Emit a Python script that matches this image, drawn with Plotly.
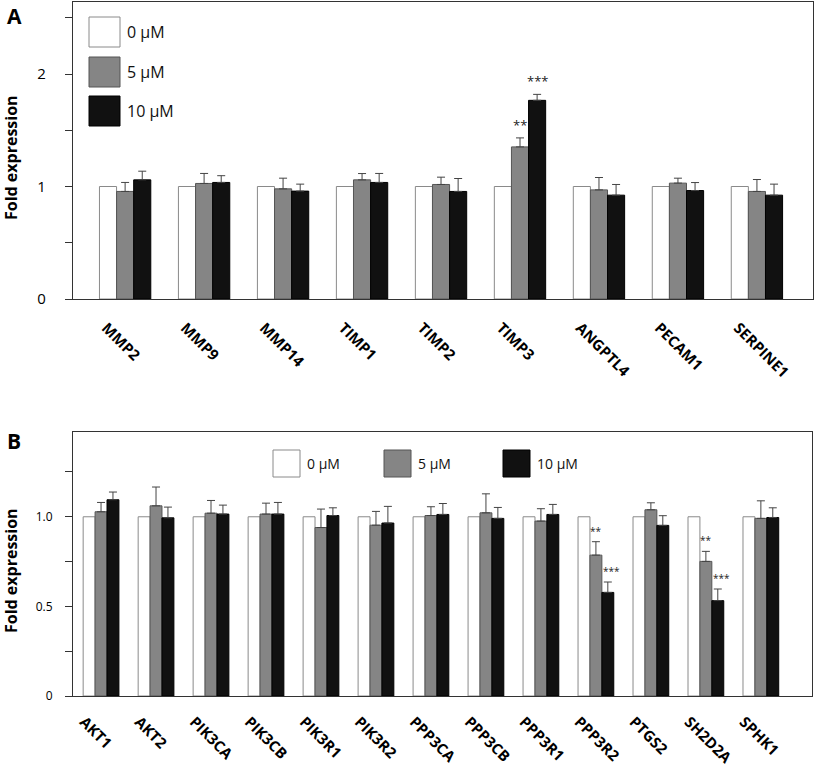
import plotly.graph_objects as go

W, H = 816, 770

# panel A data
genes_a = ["MMP2", "MMP9", "MMP14", "TIMP1", "TIMP2", "TIMP3", "ANGPTL4", "PECAM1", "SERPINE1"]
ctrl_a = [1.0, 1.0, 1.0, 1.0, 1.0, 1.0, 1.0, 1.0, 1.0]
low_a = [0.956, 1.027, 0.979, 1.059, 1.018, 1.352, 0.970, 1.030, 0.956]
low_err_a = [0.080, 0.089, 0.095, 0.056, 0.065, 0.080, 0.110, 0.044, 0.106]
high_a = [1.059, 1.036, 0.959, 1.036, 0.956, 1.766, 0.923, 0.964, 0.923]
high_err_a = [0.077, 0.060, 0.062, 0.080, 0.115, 0.053, 0.095, 0.071, 0.098]
sig_low_a = ["", "", "", "", "", "**", "", "", ""]
sig_high_a = ["", "", "", "", "", "***", "", "", ""]

# panel B data
genes_b = ["AKT1", "AKT2", "PIK3CA", "PIK3CB", "PIK3R1", "PIK3R2", "PPP3CA",
           "PPP3CB", "PPP3R1", "PPP3R2", "PTGS2", "SH2D2A", "SPHK1"]
ctrl_b = [1.0] * 13
low_b = [1.028, 1.061, 1.020, 1.015, 0.940, 0.953, 1.007, 1.022, 0.976, 0.786, 1.039, 0.751, 0.991]
low_err_b = [0.052, 0.105, 0.071, 0.061, 0.103, 0.077, 0.049, 0.106, 0.069, 0.075, 0.039, 0.056, 0.098]
high_b = [1.095, 0.994, 1.015, 1.015, 1.007, 0.965, 1.013, 0.991, 1.013, 0.578, 0.952, 0.532, 0.996]
high_err_b = [0.043, 0.060, 0.050, 0.065, 0.043, 0.093, 0.061, 0.061, 0.056, 0.058, 0.054, 0.065, 0.054]
sig_low_b = ["", "", "", "", "", "", "", "", "", "**", "", "**", ""]
sig_high_b = ["", "", "", "", "", "", "", "", "", "***", "", "***", ""]

doses = ["0 µM", "5 µM", "10 µM"]
fills = ["#ffffff", "#858585", "#111111"]
edges = ["#8a8a8a", "#555555", "#000000"]

BARGAP = 0.35
FONT = "Open Sans"


def px(x):
    return x / W


def py(y):
    return 1 - y / H


fig = go.Figure()


def add_panel(genes, series, errs, xa, ya):
    for i, (vals, err) in enumerate(zip(series, errs)):
        eb = None
        if err is not None:
            eb = dict(type="data", array=err, arrayminus=[0] * len(err), symmetric=False,
                      color="#444444", thickness=1, width=4)
        fig.add_trace(go.Bar(x=genes, y=vals, name=doses[i], marker_color=fills[i],
                             marker_line_color=edges[i], marker_line_width=1,
                             error_y=eb, xaxis=xa, yaxis=ya, showlegend=False))


add_panel(genes_a, [ctrl_a, low_a, high_a], [None, low_err_a, high_err_a], "x", "y")
add_panel(genes_b, [ctrl_b, low_b, high_b], [None, low_err_b, high_err_b], "x2", "y2")

# significance stars
step = (1 - BARGAP) / 3
for genes, vals, errs, sigs, off, xa, ya, fs, xs in [
    (genes_a, low_a, low_err_a, sig_low_a, 0, "x", "y", 13, 0),
    (genes_a, high_a, high_err_a, sig_high_a, step, "x", "y", 13, 0),
    (genes_b, low_b, low_err_b, sig_low_b, 0, "x2", "y2", 10, 0),
    (genes_b, high_b, high_err_b, sig_high_b, step, "x2", "y2", 10, 4),
]:
    for i, s in enumerate(sigs):
        if s:
            fig.add_annotation(x=i + off, y=vals[i] + errs[i], text=s, showarrow=False,
                               xref=xa, yref=ya, xanchor="center", yanchor="bottom", yshift=2, xshift=xs,
                               font=dict(family=FONT, size=fs, color="#222"))

# legends drawn as boxes
legend_a = [(89, 17, 120, 47), (89, 57, 120, 87), (89, 96, 120, 126)]
for i, (x0, y0, x1, y1) in enumerate(legend_a):
    fig.add_shape(type="rect", xref="paper", yref="paper", x0=px(x0), x1=px(x1), y0=py(y1), y1=py(y0),
                  fillcolor=fills[i], line=dict(color=edges[i], width=1))
    fig.add_annotation(xref="paper", yref="paper", x=px(x1 + 5), y=py((y0 + y1) / 2), text=doses[i],
                       showarrow=False, xanchor="left", yanchor="middle",
                       font=dict(family=FONT, size=16, color="#111"))

legend_b = [(273, 450, 300, 477), (384, 450, 411, 477), (503, 450, 530, 477)]
for i, (x0, y0, x1, y1) in enumerate(legend_b):
    fig.add_shape(type="rect", xref="paper", yref="paper", x0=px(x0), x1=px(x1), y0=py(y1), y1=py(y0),
                  fillcolor=fills[i], line=dict(color=edges[i], width=1))
    fig.add_annotation(xref="paper", yref="paper", x=px(x1 + 5), y=py((y0 + y1) / 2), text=doses[i],
                       showarrow=False, xanchor="left", yanchor="middle",
                       font=dict(family=FONT, size=14, color="#111"))

# panel letters and y titles
for letter, y in [("A", 16), ("B", 441)]:
    fig.add_annotation(xref="paper", yref="paper", x=px(14), y=py(y), text="<b>%s</b>" % letter,
                       showarrow=False, xanchor="center", yanchor="middle",
                       font=dict(family=FONT, size=21, color="#000"))
for y in [158, 571]:
    fig.add_annotation(xref="paper", yref="paper", x=px(11), y=py(y), text="<b>Fold expression</b>",
                       textangle=-90, showarrow=False, xanchor="center", yanchor="middle",
                       font=dict(family=FONT, size=16, color="#000"))

axis_common = dict(showline=True, linecolor="#333333", linewidth=1.2, mirror=True,
                   showgrid=False, zeroline=False, automargin=False)

fig.update_layout(
    width=W, height=H, margin=dict(l=0, r=0, t=0, b=0),
    paper_bgcolor="white", plot_bgcolor="white",
    barmode="group", bargap=BARGAP, bargroupgap=0,
    font=dict(family=FONT, color="#000"),
    xaxis=dict(domain=[px(73), px(813)], anchor="y", range=[-0.66, 8.71], ticks="",
               tickangle=45, ticklabelstandoff=13, ticklabelshift=-19,
               tickfont=dict(family=FONT, size=15, weight="bold"), **axis_common),
    yaxis=dict(domain=[py(299), py(2)], anchor="x", range=[0, 2.64], ticks="outside", ticklen=7,
               tickcolor="#333333", tickvals=[0, 0.5, 1, 1.5, 2, 2.5], ticktext=["0", "", "1", "", "2", ""],
               ticklabelstandoff=16, tickfont=dict(family=FONT, size=15), **axis_common),
    xaxis2=dict(domain=[px(73), px(812)], anchor="y2", range=[-0.51, 12.93], ticks="",
                tickangle=45, ticklabelstandoff=10, ticklabelshift=-17,
                tickfont=dict(family=FONT, size=15, weight="bold"), **axis_common),
    yaxis2=dict(domain=[py(696), py(432)], anchor="x2", range=[0, 1.473], ticks="outside", ticklen=7,
                tickcolor="#333333", tickvals=[0, 0.25, 0.5, 0.75, 1.0, 1.25],
                ticktext=["0", "", "0.5", "", "1.0", ""], ticklabelstandoff=10,
                tickfont=dict(family=FONT, size=12), **axis_common),
)

# the page body keeps its default 8px margin otherwise
fig.write_html("out.html", config={"displayModeBar": False},
               post_script="document.body.style.margin='0';")
